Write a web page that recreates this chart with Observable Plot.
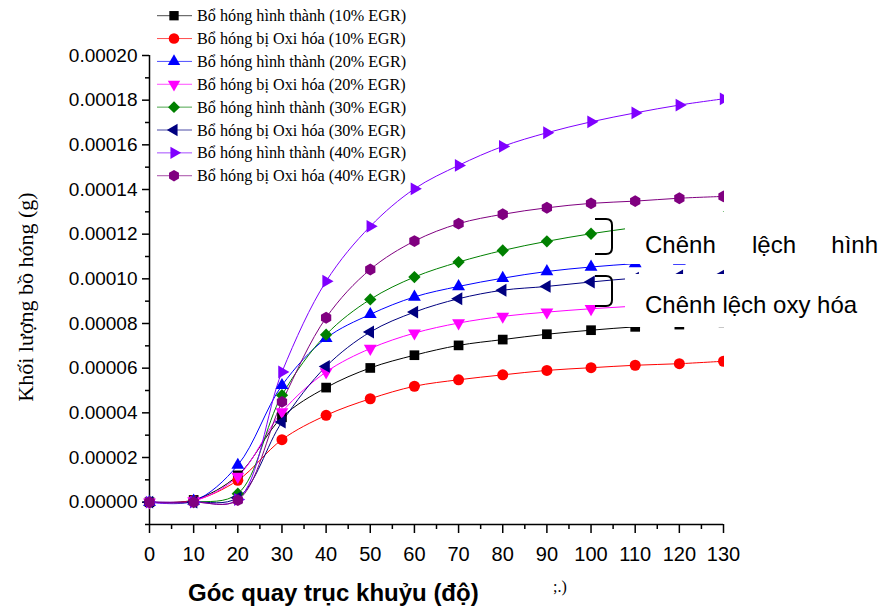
<!DOCTYPE html>
<html><head><meta charset="utf-8">
<script src="https://cdn.jsdelivr.net/npm/d3@7"></script>
<script src="https://cdn.jsdelivr.net/npm/@observablehq/plot@0.6"></script>
<style>
body{margin:0;background:#fff;}
#wrap{position:relative;width:882px;height:612px;overflow:hidden;background:#fff;}
#wrap svg{position:absolute;left:0;top:0;}
</style></head><body><div id="wrap"></div>
<script>
// ---- data ----
const angles = [0, 10, 20, 30, 40, 50, 60, 70, 80, 90, 100, 110, 120, 130];
const seriesNames = [
  "Bổ hóng hình thành (10% EGR)",
  "Bổ hóng bị Oxi hóa (10% EGR)",
  "Bổ hóng hình thành (20% EGR)",
  "Bổ hóng bị Oxi hóa (20% EGR)",
  "Bổ hóng hình thành (30% EGR)",
  "Bổ hóng bị Oxi hóa (30% EGR)",
  "Bổ hóng hình thành (40% EGR)",
  "Bổ hóng bị Oxi hóa (40% EGR)"
];
const formed10 = [0, 0.000001, 0.000012, 0.000038, 0.0000513, 0.0000601, 0.0000658, 0.0000702, 0.0000728, 0.0000752, 0.000077, 0.0000785, 0.0000795, 0.0000805];
const oxidized10 = [0, 0.0000008, 0.0000098, 0.000028, 0.0000389, 0.0000463, 0.0000519, 0.0000548, 0.000057, 0.000059, 0.0000602, 0.0000613, 0.000062, 0.0000631];
const formed20 = [0, 0.0000005, 0.0000166, 0.0000523, 0.0000734, 0.0000841, 0.0000919, 0.0000966, 0.0001003, 0.0001033, 0.0001053, 0.0001068, 0.000108, 0.000109];
const oxidized20 = [0, 0.0000005, 0.0000115, 0.0000404, 0.0000583, 0.0000688, 0.0000757, 0.0000802, 0.0000832, 0.0000851, 0.0000866, 0.0000878, 0.0000888, 0.0000895];
const formed30 = [0, 0, 0.0000038, 0.0000479, 0.000075, 0.0000908, 0.0001008, 0.0001075, 0.0001127, 0.0001168, 0.0001202, 0.000123, 0.0001255, 0.0001275];
const oxidized30 = [0, 0, 0.000002, 0.0000359, 0.0000608, 0.0000762, 0.0000851, 0.0000911, 0.0000949, 0.0000966, 0.0000986, 0.0001003, 0.0001013, 0.000102];
const formed40 = [0, 0, 0.0000012, 0.0000583, 0.0000989, 0.0001235, 0.0001403, 0.0001508, 0.0001593, 0.0001654, 0.0001703, 0.0001743, 0.0001778, 0.0001806];
const oxidized40 = [0, 0, 0.0000009, 0.0000449, 0.0000826, 0.0001042, 0.0001169, 0.0001247, 0.0001289, 0.0001318, 0.0001338, 0.0001348, 0.0001361, 0.0001369];
const seriesValues = [formed10, oxidized10, formed20, oxidized20, formed30, oxidized30, formed40, oxidized40];
const colors = ["#000000", "#ff0000", "#0000ff", "#ff00ff", "#008000", "#000080", "#8000ff", "#800080"];
const symbolKinds = ["square", "circle", "triUp", "triDown", "diamond", "triLeft", "triRight", "hexagon"];

const xTicks = [0, 10, 20, 30, 40, 50, 60, 70, 80, 90, 100, 110, 120, 130];
const xMinorTicks = [5, 15, 25, 35, 45, 55, 65, 75, 85, 95, 105, 115, 125];
const yTicks = [0, 0.00002, 0.00004, 0.00006, 0.00008, 0.0001, 0.00012, 0.00014, 0.00016, 0.00018, 0.0002];
const yMinorTicks = [-0.00001, 0.00001, 0.00003, 0.00005, 0.00007, 0.00009, 0.00011, 0.00013, 0.00015, 0.00017, 0.00019];
const xDomain = [0, 130];
const yDomain = [-0.00001, 0.0002];

const xTitle = "Góc quay trục khuỷu (độ)";
const yTitle = "Khối lượng bồ hóng (g)";
const noteFormed = ["Chênh", "lệch", "hình"];
const noteOxid = "Chênh lệch oxy hóa";
const strayText = ";.)";

// ---- symbols ----
function poly(ctx, pts) {
  ctx.moveTo(pts[0][0], pts[0][1]);
  for (let i = 1; i < pts.length; i++) ctx.lineTo(pts[i][0], pts[i][1]);
  ctx.closePath();
}
function regular(n, startDeg, scale) {
  return {draw(ctx, size) {
    const R = Math.sqrt(size / Math.PI) * scale;
    const pts = d3.range(n).map(i => {
      const a = (startDeg + 360 / n * i) * Math.PI / 180;
      return [R * Math.cos(a), R * Math.sin(a)];
    });
    poly(ctx, pts);
  }};
}
const symbols = {
  square: {draw(ctx, size) { const r = Math.sqrt(size / Math.PI) * 0.88; ctx.rect(-r, -r, 2 * r, 2 * r); }},
  circle: {draw(ctx, size) { const r = Math.sqrt(size / Math.PI); ctx.moveTo(r, 0); ctx.arc(0, 0, r, 0, 2 * Math.PI); }},
  triUp: regular(3, -90, 1.35),
  triDown: regular(3, 90, 1.35),
  triLeft: regular(3, 180, 1.35),
  triRight: regular(3, 0, 1.35),
  diamond: regular(4, -90, 1.12),
  hexagon: regular(6, -90, 1.08)
};

// ---- rows ----
const rows = [];
seriesValues.forEach((vals, si) => vals.forEach((v, i) => rows.push({series: si, angle: angles[i], value: v})));

const marks = [];
seriesValues.forEach((vals, si) => {
  marks.push(Plot.line(rows.filter(d => d.series === si), {
    x: "angle", y: "value", stroke: colors[si], strokeWidth: 1, curve: "catmull-rom"
  }));
});
seriesValues.forEach((vals, si) => {
  marks.push(Plot.dot(rows.filter(d => d.series === si), {
    x: "angle", y: "value", fill: colors[si], stroke: "none", r: 5.5, symbol: symbols[symbolKinds[si]]
  }));
});

const chart = Plot.plot({
  width: 882,
  height: 612,
  marginLeft: 149,
  marginRight: 159,
  marginTop: 55,
  marginBottom: 88,
  style: {fontFamily: "'Liberation Sans', Arial, sans-serif", color: "black", background: "white", overflow: "visible"},
  x: {domain: xDomain},
  y: {domain: yDomain},
  marks: [
    Plot.axisX(xTicks, {tickSize: 9, tickPadding: 13, fontSize: 20, label: null, strokeWidth: 1.5}),
    Plot.axisX(xMinorTicks, {tickSize: 5, tickFormat: () => "", label: null, strokeWidth: 1.5}),
    Plot.axisY(yTicks, {tickSize: 7, tickPadding: 5, fontSize: 19, label: null, tickFormat: d => d.toFixed(5), strokeWidth: 1.5}),
    Plot.axisY(yMinorTicks, {tickSize: 4, tickFormat: () => "", label: null, strokeWidth: 1.5}),
    Plot.ruleX([xDomain[0]], {y1: yDomain[0], y2: yDomain[1], strokeWidth: 1.5}),
    Plot.ruleY([yDomain[0]], {x1: xDomain[0], x2: xDomain[1], strokeWidth: 1.5}),
    ...marks
  ]
});
document.getElementById("wrap").appendChild(chart);

// ---- overlay: cover boxes, notes, legend, titles ----
const ov = d3.select("#wrap").append("svg").attr("width", 882).attr("height", 612);
ov.append("rect").attr("x", 724).attr("y", 40).attr("width", 158).attr("height", 480).attr("fill", "white");
ov.append("rect").attr("x", 625).attr("y", 212).attr("width", 257).attr("height", 52).attr("fill", "white");
ov.append("rect").attr("x", 625).attr("y", 274).attr("width", 257).attr("height", 53).attr("fill", "white");

const sans = "'Liberation Sans', Arial, sans-serif";
const serif = "'Liberation Serif', 'Times New Roman', serif";
ov.append("text").attr("x", 645).attr("y", 253).attr("font-family", sans).attr("font-size", 24).text(noteFormed[0]);
ov.append("text").attr("x", 774).attr("y", 253).attr("text-anchor", "middle").attr("font-family", sans).attr("font-size", 24).text(noteFormed[1]);
ov.append("text").attr("x", 878).attr("y", 253).attr("text-anchor", "end").attr("font-family", sans).attr("font-size", 24).text(noteFormed[2]);
ov.append("text").attr("x", 645).attr("y", 313).attr("font-family", sans).attr("font-size", 24).text(noteOxid);

ov.append("path").attr("d", "M595,219H606Q612,219 612,225V248Q612,254 606,254H595").attr("fill", "none").attr("stroke", "black").attr("stroke-width", 2);
ov.append("path").attr("d", "M595,276H606Q612,276 612,282V300Q612,306 606,306H595").attr("fill", "none").attr("stroke", "black").attr("stroke-width", 2);

// legend
const lg = ov.append("g");
seriesNames.forEach((name, i) => {
  const cy = 15.7 + i * 22.86;
  lg.append("line").attr("x1", 157).attr("x2", 192).attr("y1", cy).attr("y2", cy).attr("stroke", colors[i]).attr("stroke-width", 1).attr("stroke-opacity", 0.7);
  lg.append("path").attr("transform", `translate(174,${cy})`).attr("fill", colors[i])
    .attr("d", d3.symbol(symbols[symbolKinds[i]], Math.PI * 5.3 * 5.3)());
  lg.append("text").attr("x", 197).attr("y", cy + 5.5).attr("font-family", serif).attr("font-size", 16.2).text(name);
});

// titles
ov.append("text").attr("x", 188).attr("y", 601).attr("font-family", sans).attr("font-weight", "bold").attr("font-size", 24).text(xTitle);
ov.append("text").attr("transform", "translate(25,297) rotate(-90)").attr("text-anchor", "middle").attr("dominant-baseline", "central")
  .attr("font-family", serif).attr("font-size", 22).text(yTitle);
ov.append("text").attr("x", 553).attr("y", 592).attr("font-family", serif).attr("font-size", 16).text(strayText);
</script></body></html>
